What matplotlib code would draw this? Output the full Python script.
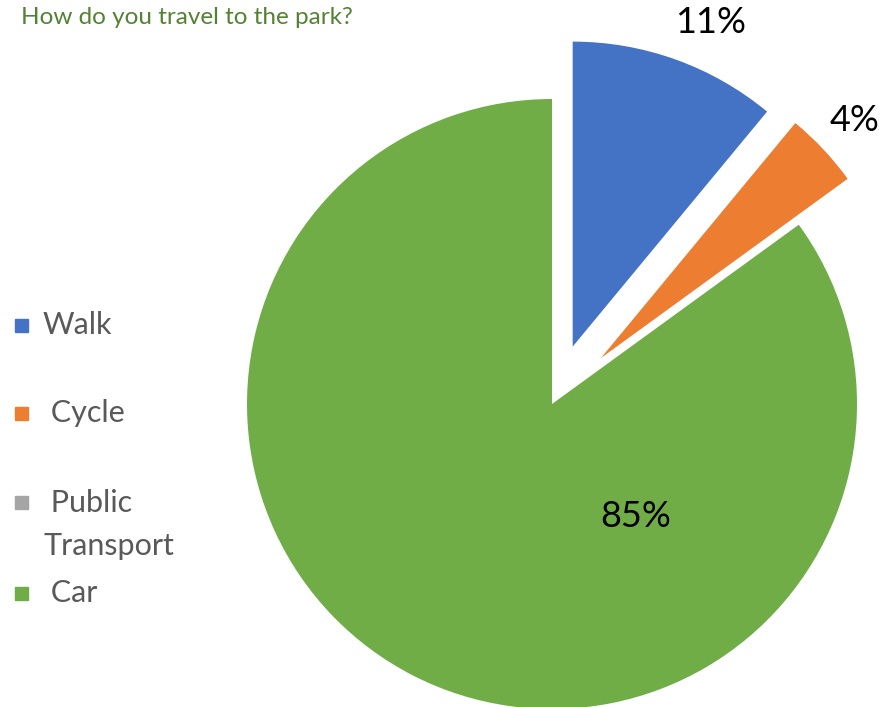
import matplotlib.pyplot as plt
from matplotlib.patches import Rectangle

plt.rcParams['font.family'] = ['Lato', 'DejaVu Sans']

# survey results (percent)
modes = ['Walk', 'Cycle', 'Public Transport', 'Car']
share = [11, 4, 0, 85]
legend_labels = ['Walk', ' Cycle', ' Public\nTransport', ' Car']

colors = ['#4472C4', '#ED7D31', '#A5A5A5', '#70AD47']
explode = [0.2, 0.22, 0, 0]

fig = plt.figure(figsize=(8.86, 7.07), dpi=100)
ax = fig.add_axes([0, 0, 1, 1])

wedges, _ = ax.pie(share, colors=colors, explode=explode, startangle=90,
                   counterclock=False, radius=1.0,
                   wedgeprops=dict(linewidth=0))

# axis window: 305 px per unit radius, pie centre at (552, 404) px
ax.set_xlim(-552 / 305, (886 - 552) / 305)
ax.set_ylim(-(707 - 404) / 305, 404 / 305)
ax.set_aspect('equal')
ax.axis('off')

# data labels
label_pos = {'Walk': (0.521, 1.252), 'Cycle': (0.993, 0.931), 'Car': (0.275, -0.370)}
for m, v in zip(modes, share):
    if v == 0:
        continue
    x, y = label_pos[m]
    ax.text(x, y, f'{v:.0f}%', ha='center', va='center', fontsize=26, color='black')

# title
fig.text(21 / 886, 1 - 17 / 707, 'How do you travel to the park?', fontsize=17.5,
         color='#548235', ha='left', va='center')

# legend on the left
legend_y = [325, 413, 502, 593]
for lab, c, y in zip(legend_labels, colors, legend_y):
    fig.patches.append(Rectangle((15 / 886, 1 - (y + 6.5) / 707), 13 / 886, 13 / 707,
                                 transform=fig.transFigure, color=c))
    ty = y + 22.5 if '\n' in lab else y
    fig.text(43 / 886, 1 - ty / 707, lab, fontsize=22, color='#595959',
             ha='left', va='center', linespacing=1.65)

plt.savefig('out.png', dpi=100)
